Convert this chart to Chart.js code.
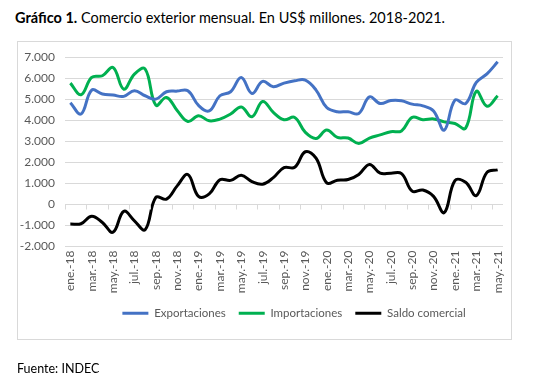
<!DOCTYPE html>
<html>
<head>
<meta charset="utf-8">
<script src="https://cdn.jsdelivr.net/npm/chart.js@4.4.1/dist/chart.umd.min.js"></script>
<style>
  body { margin: 0; background: #fff; font-family: Lato, "Open Sans", sans-serif; }
  #wrap { position: relative; width: 556px; height: 391px; overflow: hidden; }
  #title { position: absolute; left: 15px; top: 9px; font-size: 14.5px; color: #000; white-space: nowrap; }
  #box { position: absolute; left: 17px; top: 41px; width: 493px; height: 297px; border: 1px solid #d9d9d9; }
  #source { position: absolute; left: 17px; top: 361px; font-size: 12.5px; color: #000; }
  canvas { position: absolute; left: 0; top: 0; }
</style>
</head>
<body>
<div id="wrap">
  <div id="title"><b>Gráfico 1.</b> Comercio exterior mensual. En US$ millones. 2018-2021.</div>
  <div id="box"></div>
  <canvas id="chart" width="556" height="391"></canvas>
  <div id="source">Fuente: INDEC</div>
</div>
<script>
// Months ene-18 .. may-21
const months = [
  'ene.-18','feb.-18','mar.-18','abr.-18','may.-18','jun.-18','jul.-18','ago.-18','sep.-18','oct.-18','nov.-18','dic.-18',
  'ene.-19','feb.-19','mar.-19','abr.-19','may.-19','jun.-19','jul.-19','ago.-19','sep.-19','oct.-19','nov.-19','dic.-19',
  'ene.-20','feb.-20','mar.-20','abr.-20','may.-20','jun.-20','jul.-20','ago.-20','sep.-20','oct.-20','nov.-20','dic.-20',
  'ene.-21','feb.-21','mar.-21','abr.-21','may.-21'
];

// US$ millones
const exportaciones = [
  4830, 4290, 5430, 5240, 5190, 5130, 5400, 5160, 5000, 5350, 5380, 5400,
  4700, 4440, 5160, 5350, 6030, 5270, 5840, 5590, 5760, 5870, 5900, 5430,
  4600, 4400, 4400, 4320, 5110, 4790, 4930, 4920, 4760, 4680, 4440, 3530,
  4950, 4790, 5790, 6200, 6770
];
const importaciones = [
  5760, 5210, 6030, 6110, 6500, 5470, 6190, 6430, 4710, 5080, 4460, 3940,
  4210, 3970, 4050, 4290, 4630, 4160, 4890, 4370, 4020, 4130, 3420, 3130,
  3530, 3180, 3150, 2890, 3150, 3300, 3450, 3490, 4130, 4020, 4060, 3920,
  3840, 3620, 5370, 4660, 5160
];
const saldo = [
  -930, -920, -560, -860, -1320, -330, -780, -1200, 330, 250, 880, 1420,
  380, 500, 1170, 1140, 1380, 1080, 960, 1270, 1750, 1760, 2500, 2200,
  1020, 1150, 1180, 1420, 1900, 1480, 1480, 1460, 630, 680, 380, -390,
  1130, 1050, 420, 1520, 1640
];

const axisGray = '#595959';
const gridGray = '#d9d9d9';

function fmt(v) {
  const s = Math.abs(v).toString().replace(/\B(?=(\d{3})+(?!\d))/g, '.');
  return (v < 0 ? '-' : '') + s;
}

// tick marks hanging under the zero line, every two months
const zeroTicks = {
  id: 'zeroTicks',
  afterDatasetsDraw(chart) {
    const x = chart.scales.x, y = chart.scales.y;
    const ctx = chart.ctx;
    const y0 = Math.round(y.getPixelForValue(0)) + 0.5;
    const step = x.getPixelForValue(1) - x.getPixelForValue(0);
    ctx.save();
    ctx.strokeStyle = gridGray;
    ctx.lineWidth = 1;
    ctx.beginPath();
    for (let k = 0; k < months.length; k += 2) {
      const px = Math.round(x.getPixelForValue(k) - step / 2) + 0.5;
      ctx.moveTo(px, y0);
      ctx.lineTo(px, y0 + 5);
    }
    ctx.stroke();
    ctx.restore();
  }
};

function line(label, data, color) {
  return {
    label, data,
    borderColor: color,
    backgroundColor: color,
    borderWidth: 3,
    pointRadius: 0,
    tension: 0.4,
    fill: false
  };
}

const chart = new Chart(document.getElementById('chart').getContext('2d'), {
  type: 'line',
  data: {
    labels: months,
    datasets: [
      line('Exportaciones', exportaciones, '#4472C4'),
      line('Importaciones', importaciones, '#00B050'),
      line('Saldo comercial', saldo, '#000000')
    ]
  },
  plugins: [zeroTicks],
  options: {
    responsive: false,
    animation: false,
    devicePixelRatio: 1,
    layout: { padding: { top: 57, left: 17, right: 53, bottom: 62 } },
    plugins: {
      tooltip: { enabled: false },
      legend: {
        position: 'bottom',
        labels: {
          usePointStyle: true,
          pointStyle: 'line',
          pointStyleWidth: 26,
          boxHeight: 3,
          color: axisGray,
          padding: 13,
          font: { family: 'Lato', size: 11.5 }
        }
      }
    },
    scales: {
      x: {
        offset: true,
        grid: { display: false, drawTicks: false },
        border: { display: false },
        ticks: {
          autoSkip: false,
          maxRotation: 90,
          minRotation: 90,
          padding: 4,
          color: axisGray,
          font: { family: 'Lato', size: 12 },
          callback: (v, i) => (i % 2 === 0 ? months[i] : null)
        },
        afterFit: s => { s.height = 48; }
      },
      y: {
        min: -2000,
        max: 7000,
        grid: { color: gridGray, drawTicks: false },
        border: { display: false },
        ticks: {
          stepSize: 1000,
          padding: 10,
          color: axisGray,
          font: { family: 'Lato', size: 12 },
          callback: v => fmt(v)
        },
        afterFit: s => { s.width = 48; }
      }
    }
  }
});

// the legend in the original sits a bit right of the plot centre
const legendDraw = chart.legend.draw.bind(chart.legend);
chart.legend.draw = function () {
  chart.ctx.save();
  chart.ctx.translate(34, 0);
  legendDraw();
  chart.ctx.restore();
};
chart.draw();
</script>
</body>
</html>
